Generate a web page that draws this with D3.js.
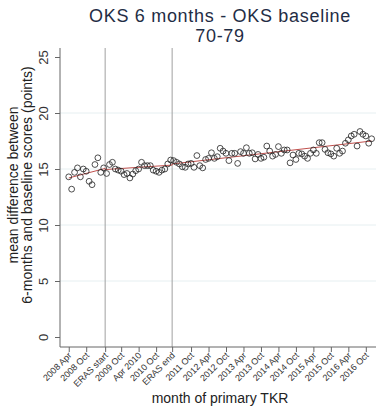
<!DOCTYPE html>
<html>
<head>
<meta charset="utf-8">
<script src="https://cdn.jsdelivr.net/npm/d3@7"></script>
<style>
  html, body { margin: 0; padding: 0; background: #fff; }
  svg { display: block; font-family: "Liberation Sans", Arial, sans-serif; }
</style>
</head>
<body>
<svg id="chart" width="378" height="414"></svg>
<script>
// Month index counted from January 2008 (0 = 2008 Jan)
const months = d3.range(3, 108);
// Mean OKS change (6 months minus baseline), one value per month
const meanDiff = [
  14.3, 13.2, 14.7, 15.1, 14.3, 15.0, 14.8, 13.9, 13.6, 15.4,
  16.0, 14.7, 15.1, 14.6, 15.4, 15.6, 15.0, 14.9, 14.8, 14.5,
  14.6, 14.2, 14.55, 14.85, 15.0, 15.6, 15.3, 15.3, 15.3, 14.9,
  14.8, 14.7, 14.9, 15.0, 15.45, 15.8, 15.75, 15.6, 15.45, 15.2,
  15.15, 15.45, 15.5, 15.15, 16.2, 15.3, 15.1, 15.85, 15.95, 16.45,
  15.95, 16.1, 16.85, 16.6, 16.4, 15.75, 16.4, 16.4, 15.5, 16.55,
  16.4, 16.9, 16.4, 16.45, 15.9, 16.3, 15.95, 16.05, 17.05, 16.6,
  16.15, 16.3, 17.0, 16.4, 16.7, 16.7, 15.55, 16.25, 15.85, 16.4,
  16.35, 16.15, 15.95, 16.4, 16.7, 16.4, 17.35, 17.35, 16.75, 16.45,
  16.35, 16.15, 16.85, 16.4, 16.6, 17.3, 17.6, 17.95, 18.1, 17.05,
  18.35, 18.1, 17.95, 17.3, 17.7
];
// Segmented trend (before, during and after ERAS)
const fitMonths = [3, 15.5, 15.5, 38.5, 38.5, 107];
const fitValues = [14.2, 15.05, 14.95, 15.35, 15.45, 17.5];
// Period boundaries
const erasMonths = [15.5, 38.5];
// X axis ticks
const xTickMonths = [3, 9, 15.5, 21, 27, 33, 38.5, 45, 51, 57, 63, 69, 75, 81, 87, 93, 99, 105];
const xTickLabels = ["2008 Apr", "2008 Oct", "ERAS start", "2009 Oct", "Apr 2010", "2010 Oct",
  "ERAS end", "2011 Oct", "2012 Apr", "2012 Oct", "2013 Apr", "2013 Oct", "2014 Apr",
  "2014 Oct", "2015 Apr", "2015 Oct", "2016 Apr", "2016 Oct"];
const yTicks = [0, 5, 10, 15, 20, 25];

const svg = d3.select("#chart");
const plotLeft = 60, plotRight = 376, plotTop = 48, plotBottom = 347;

const x = d3.scaleLinear().domain([0, 108.5]).range([plotLeft, plotRight]);
const y = d3.scaleLinear().domain([0, 25]).range([337, 57]);

// Horizontal grid
svg.append("g").selectAll("line").data(yTicks.filter(d => d > 0 && d < 25)).join("line")
  .attr("x1", plotLeft).attr("x2", plotRight)
  .attr("y1", d => y(d)).attr("y2", d => y(d))
  .attr("stroke", "#e6eff1").attr("stroke-width", 1);

// ERAS boundary lines
svg.append("g").selectAll("line").data(erasMonths).join("line")
  .attr("x1", d => x(d)).attr("x2", d => x(d))
  .attr("y1", plotTop).attr("y2", plotBottom)
  .attr("stroke", "#a0a0a0").attr("stroke-width", 1);

// Y axis
const yAxis = svg.append("g").attr("transform", `translate(${plotLeft},0)`)
  .call(d3.axisLeft(y).tickValues(yTicks).tickSize(5).tickPadding(4));
yAxis.select(".domain").remove();
yAxis.append("line").attr("x1", 0).attr("x2", 0).attr("y1", plotTop).attr("y2", plotBottom)
  .attr("stroke", "#666");
yAxis.selectAll(".tick line").attr("stroke", "#666");
yAxis.selectAll(".tick text")
  .attr("fill", "#333").style("font-size", "13px")
  .attr("text-anchor", "middle")
  .attr("x", 0).attr("y", 0).attr("dy", "0")
  .attr("transform", "translate(-12,0) rotate(-90)");

// X axis
const xAxis = svg.append("g").attr("transform", `translate(0,${plotBottom})`)
  .call(d3.axisBottom(x).tickValues(xTickMonths).tickSize(5)
    .tickFormat((d, i) => xTickLabels[i]));
xAxis.select(".domain").attr("stroke", "#666").attr("d", `M${plotLeft},0H${plotRight}`);
xAxis.selectAll(".tick line").attr("stroke", "#666");
xAxis.selectAll(".tick text")
  .attr("fill", "#333").style("font-size", "9px")
  .attr("text-anchor", "end")
  .attr("x", 0).attr("y", 0).attr("dy", "0")
  .attr("transform", "translate(3,9) rotate(-45)");

// Trend line
const fit = fitMonths.map((m, i) => [m, fitValues[i]]);
svg.append("path")
  .datum(fit)
  .attr("fill", "none").attr("stroke", "#c0504d").attr("stroke-width", 1)
  .attr("d", d3.line().x(d => x(d[0])).y(d => y(d[1])));

// Monthly means
svg.append("g").selectAll("circle").data(months.map((m, i) => [m, meanDiff[i]])).join("circle")
  .attr("cx", d => x(d[0])).attr("cy", d => y(d[1])).attr("r", 2.9)
  .attr("fill", "none").attr("stroke", "#222").attr("stroke-width", 0.8);

// Titles
svg.append("text").attr("x", 220).attr("y", 22).attr("text-anchor", "middle")
  .attr("fill", "#1f2d45").style("font-size", "18px").style("letter-spacing", "0.7px")
  .text("OKS 6 months - OKS baseline");
svg.append("text").attr("x", 220).attr("y", 42).attr("text-anchor", "middle")
  .attr("fill", "#1f2d45").style("font-size", "18px").style("letter-spacing", "0.7px")
  .text("70-79");

// Axis titles
svg.append("text").attr("x", 220).attr("y", 403).attr("text-anchor", "middle")
  .attr("fill", "#222").style("font-size", "14px").text("month of primary TKR");
const yt = svg.append("text").attr("transform", "translate(18,185) rotate(-90)")
  .attr("text-anchor", "middle").attr("fill", "#222").style("font-size", "14px");
yt.append("tspan").attr("x", 0).attr("dy", 0).text("mean difference between");
yt.append("tspan").attr("x", 0).attr("dy", 14).text("6-months and baseline scores (points)");
</script>
</body>
</html>
